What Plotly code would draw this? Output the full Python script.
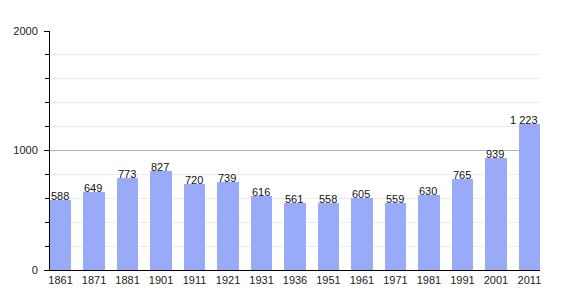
import plotly.graph_objects as go

years = ["1861", "1871", "1881", "1901", "1911", "1921", "1931", "1936",
         "1951", "1961", "1971", "1981", "1991", "2001", "2011"]
population = [588, 649, 773, 827, 720, 739, 616, 561, 558, 605, 559, 630, 765, 939, 1223]
value_labels = ["588", "649", "773", "827", "720", "739", "616", "561",
                "558", "605", "559", "630", "765", "939", "1 223"]
y_ticks = [0, 1000, 2000]
y_tick_labels = ["0", "1000", "2000"]

BAR_W = 0.63
xs = list(range(len(years)))
FONT = "Liberation Sans, Arial, sans-serif"

fig = go.Figure()
fig.add_trace(go.Bar(
    x=xs, y=population, width=BAR_W,
    marker=dict(color="#99aaf8", line=dict(width=0)),
    hoverinfo="skip",
))

annotations = []
for i, (v, lab) in enumerate(zip(population, value_labels)):
    last = i == len(population) - 1
    annotations.append(dict(
        x=i + BAR_W / 2 if last else i - BAR_W / 2,
        y=v, xref="x", yref="y",
        text=lab, showarrow=False,
        xanchor="right" if last else "left", yanchor="bottom",
        yshift=-4, xshift=0 if last else -1,
        font=dict(family=FONT, size=11, color="#111111"),
    ))

fig.update_layout(
    width=570, height=300,
    margin=dict(l=50, r=30, t=31, b=30),
    paper_bgcolor="white", plot_bgcolor="white",
    showlegend=False, bargap=0,
    annotations=annotations,
    xaxis=dict(
        range=[-BAR_W / 2, len(years) - 1 + BAR_W / 2],
        tickvals=xs, ticktext=years,
        showgrid=False, zeroline=False,
        showline=True, linecolor="black", linewidth=1,
        ticks="", ticklen=0,
        tickfont=dict(family=FONT, size=11, color="#222222"),
        fixedrange=True,
    ),
    yaxis=dict(
        range=[0, 2000],
        tickvals=y_ticks, ticktext=y_tick_labels,
        showgrid=True, gridcolor="#b4b4b4", gridwidth=1,
        zeroline=False,
        showline=True, linecolor="black", linewidth=1,
        ticks="outside", ticklen=5, tickcolor="black",
        minor=dict(dtick=200, showgrid=True, gridcolor="#ebebeb",
                   ticks="outside", ticklen=4, tickcolor="black"),
        tickfont=dict(family=FONT, size=11, color="#222222"),
        ticklabelstandoff=4,
        fixedrange=True,
    ),
)

fig.write_html("out.html")
